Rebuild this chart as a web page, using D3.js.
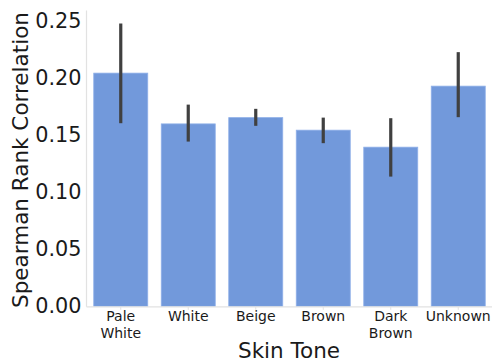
<!DOCTYPE html>
<html>
<head>
<meta charset="utf-8">
<script src="https://cdn.jsdelivr.net/npm/d3@7"></script>
<style>
  html, body { margin: 0; padding: 0; background: #fff; }
  svg { display: block; font-family: "DejaVu Sans", sans-serif; }
</style>
</head>
<body>
<svg id="chart" width="493" height="363"></svg>
<script>
// Mean Spearman rank correlation per skin tone, with confidence intervals
const categories = ["Pale White", "White", "Beige", "Brown", "Dark Brown", "Unknown"];
const means = [0.2044, 0.1599, 0.1654, 0.1544, 0.1395, 0.1930];
const ciLow = [0.1605, 0.1444, 0.1582, 0.1430, 0.1137, 0.1658];
const ciHigh = [0.2479, 0.1768, 0.1731, 0.1654, 0.1649, 0.2228];
const yTicks = [0.00, 0.05, 0.10, 0.15, 0.20, 0.25];

const svg = d3.select("#chart");
const margin = { left: 87, right: 1, top: 10.5, bottom: 57 };
const W = 493, H = 363;

const x = d3.scaleBand()
  .domain(categories)
  .range([margin.left, W - margin.right])
  .paddingInner(0.2)
  .paddingOuter(0.1);

const y = d3.scaleLinear()
  .domain([0, 0.2593])
  .range([H - margin.bottom + 0.3, margin.top]);

const data = categories.map((c, i) => ({ c, m: means[i], lo: ciLow[i], hi: ciHigh[i] }));

// bars
svg.append("g").selectAll("rect").data(data).join("rect")
  .attr("x", d => x(d.c))
  .attr("width", x.bandwidth())
  .attr("y", d => y(d.m))
  .attr("height", d => y(0) - y(d.m))
  .attr("fill", "#7299db")
  .attr("stroke", "#8fb0e8")
  .attr("stroke-width", 0.8);

// error bars
svg.append("g").selectAll("line").data(data).join("line")
  .attr("x1", d => x(d.c) + x.bandwidth() / 2)
  .attr("x2", d => x(d.c) + x.bandwidth() / 2)
  .attr("y1", d => y(d.lo))
  .attr("y2", d => y(d.hi))
  .attr("stroke", "#404040")
  .attr("stroke-width", 3.2);

// spines
const spine = "#e2e2e2";
svg.append("line")
  .attr("x1", margin.left - 0.5).attr("x2", margin.left - 0.5)
  .attr("y1", margin.top).attr("y2", y(0) + 0.5)
  .attr("stroke", spine).attr("stroke-width", 1.2);
svg.append("line")
  .attr("x1", margin.left - 0.5).attr("x2", W - 1)
  .attr("y1", y(0) + 0.5).attr("y2", y(0) + 0.5)
  .attr("stroke", spine).attr("stroke-width", 1.2);

// y axis
const yAxis = svg.append("g")
  .attr("transform", `translate(${margin.left - 0.5},0)`)
  .call(d3.axisLeft(y).tickValues(yTicks).tickFormat(d3.format(".2f")).tickSize(0).tickPadding(5));
yAxis.select(".domain").remove();
yAxis.selectAll("text")
  .attr("font-family", "DejaVu Sans")
  .attr("font-size", 20.8)
  .attr("fill", "#1a1a1a");

// x axis with wrapped category labels
const xAxis = svg.append("g")
  .attr("transform", `translate(0,${y(0) + 0.5})`)
  .call(d3.axisBottom(x).tickSize(3).tickPadding(2));
xAxis.select(".domain").remove();
xAxis.selectAll(".tick line").attr("stroke", spine);
xAxis.selectAll(".tick text").each(function (d) {
  const t = d3.select(this);
  const words = d.split(" ");
  t.text(null)
    .attr("font-family", "DejaVu Sans")
    .attr("font-size", 14)
    .attr("fill", "#1a1a1a")
    .attr("dy", null)
    .attr("y", 0);
  words.forEach((w, i) => {
    t.append("tspan").attr("x", 0).attr("y", 14.5 + i * 16.7).text(w);
  });
});

// axis titles
svg.append("text")
  .attr("x", 289).attr("y", 358.3)
  .attr("text-anchor", "middle")
  .attr("font-size", 21.5)
  .attr("fill", "#1a1a1a")
  .text("Skin Tone");

svg.append("text")
  .attr("transform", "translate(28,160) rotate(-90)")
  .attr("text-anchor", "middle")
  .attr("font-size", 21.5)
  .attr("fill", "#1a1a1a")
  .text("Spearman Rank Correlation");
</script>
</body>
</html>
